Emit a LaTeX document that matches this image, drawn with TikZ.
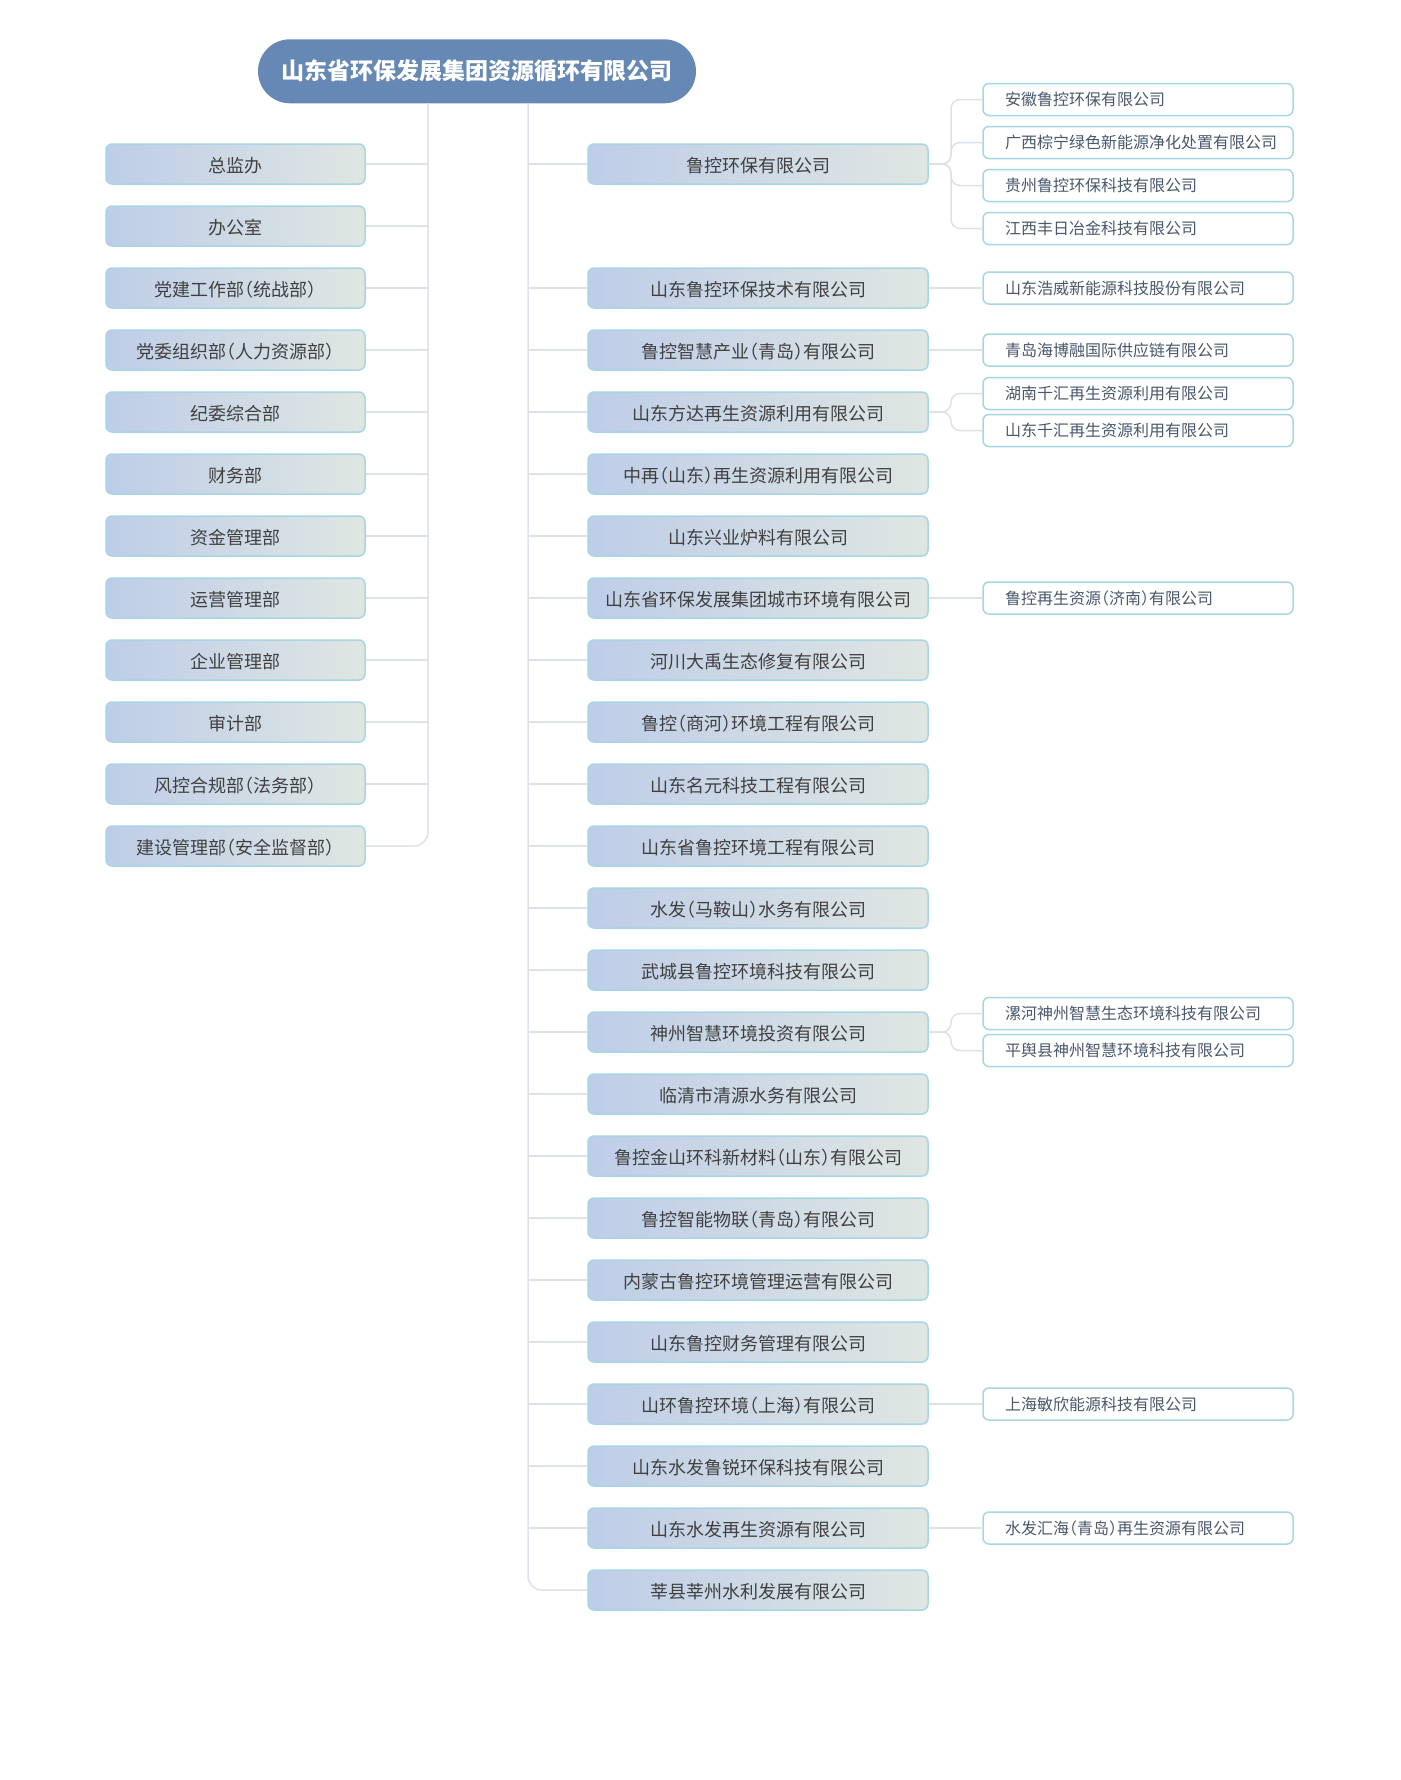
\documentclass[tikz,border=0pt]{standalone}
\usepackage{fontspec}
\setmainfont{Noto Sans CJK SC}[RawFeature=+halt]
\definecolor{racine}{RGB}{102,136,180}
\definecolor{boxg}{RGB}{190,205,232}
\definecolor{boxd}{RGB}{223,230,226}
\definecolor{bord}{RGB}{166,214,230}
\definecolor{lienc}{RGB}{221,226,234}
\definecolor{texte}{RGB}{64,64,64}
\definecolor{soustexte}{RGB}{74,88,108}
\tikzset{
	siegebox/.style={fill=racine, rounded corners=32pt, minimum width=438pt, minimum height=64pt, text=white, font=\fontsize{23}{26}\selectfont\bfseries},
	dept/.style={left color=boxg, right color=boxd, draw=bord, line width=1.5pt, rounded corners=6pt, minimum width=259pt, minimum height=40pt, inner sep=0pt, text=texte, text height=16pt, text depth=0pt, font=\fontsize{18}{20}\selectfont},
	filiale/.style={dept, minimum width=340pt},
	sousfil/.style={fill=white, draw=bord, line width=1.5pt, rounded corners=6pt, minimum height=32pt, inner xsep=22pt, inner ysep=0pt, text width=266pt, align=left, text=soustexte, font=\fontsize{16}{18}\selectfont},
	lien/.style={draw=lienc, line width=1.5pt}
}
\begin{document}
\begin{tikzpicture}[x=1pt,y=-1pt]
	% Fond
	\fill[white] (0,0) rectangle (1400,1780);
	\useasboundingbox (0,0) rectangle (1400,1780);
	
	% Siège
	\node[siegebox] (siege) at (477,71.3) {山东省环保发展集团资源循环有限公司};
	\coordinate (tg) at (428,103);
	\coordinate (td) at (528,103);
	\coordinate (xb) at (951,0);
	
	% Départements (à gauche)
	\foreach \t [count=\i from 0] in {总监办,办公室,党建工作部（统战部）,党委组织部（人力资源部）,纪委综合部,财务部,资金管理部,运营管理部,企业管理部,审计部,风控合规部（法务部）,建设管理部（安全监督部）}
		\node[dept] (d\i) at (235.5,{164+62*\i}) {\t};
	
	% Filiales (à droite)
	\foreach \r/\t in {0/鲁控环保有限公司,2/山东鲁控环保技术有限公司,3/鲁控智慧产业（青岛）有限公司,4/山东方达再生资源利用有限公司,5/中再（山东）再生资源利用有限公司,6/山东兴业炉料有限公司,7/山东省环保发展集团城市环境有限公司,8/河川大禹生态修复有限公司,9/鲁控（商河）环境工程有限公司,10/山东名元科技工程有限公司,11/山东省鲁控环境工程有限公司,12/水发（马鞍山）水务有限公司,13/武城县鲁控环境科技有限公司,14/神州智慧环境投资有限公司,15/临清市清源水务有限公司,16/鲁控金山环科新材料（山东）有限公司,17/鲁控智能物联（青岛）有限公司,18/内蒙古鲁控环境管理运营有限公司,19/山东鲁控财务管理有限公司,20/山环鲁控环境（上海）有限公司,21/山东水发鲁锐环保科技有限公司,22/山东水发再生资源有限公司,23/莘县莘州水利发展有限公司}
		\node[filiale] (f\r) at (758,{164+62*\r}) {\t};
	
	% Sous-filiales
	\node[sousfil] (s0a) at (1138,99.5) {安徽鲁控环保有限公司};
	\node[sousfil] (s0b) at (1138,142.5) {广西棕宁绿色新能源净化处置有限公司};
	\node[sousfil] (s0c) at (1138,185.5) {贵州鲁控环保科技有限公司};
	\node[sousfil] (s0d) at (1138,228.5) {江西丰日冶金科技有限公司};
	\node[sousfil] (s2) at (1138,288) {山东浩威新能源科技股份有限公司};
	\node[sousfil] (s3) at (1138,350) {青岛海博融国际供应链有限公司};
	\node[sousfil] (s4a) at (1138,393.5) {湖南千汇再生资源利用有限公司};
	\node[sousfil] (s4b) at (1138,430.5) {山东千汇再生资源利用有限公司};
	\node[sousfil] (s7) at (1138,598) {鲁控再生资源（济南）有限公司};
	\node[sousfil] (s14a) at (1138,1013.5) {漯河神州智慧生态环境科技有限公司};
	\node[sousfil] (s14b) at (1138,1050.5) {平舆县神州智慧环境科技有限公司};
	\node[sousfil] (s20) at (1138,1404) {上海敏欣能源科技有限公司};
	\node[sousfil] (s22) at (1138,1528) {水发汇海（青岛）再生资源有限公司};
	
	% Liaisons gauche
	\foreach \i in {0,...,10}
		\draw[lien] (d\i.east) -- (d\i.east -| tg);
	\draw[lien, rounded corners=14pt] (tg) |- (d11.east);
	
	% Liaisons droite
	\foreach \r in {0,2,3,...,22}
		\draw[lien] (f\r.west) -- (f\r.west -| td);
	\draw[lien, rounded corners=14pt] (td) |- (f23.west);
	
	% Accolades vers les sous-filiales
	\foreach \f/\s in {0/s0a,0/s0b,0/s0c,0/s0d,4/s4a,4/s4b,14/s14a,14/s14b}
		\draw[lien, rounded corners=9pt] (f\f.east) -- (f\f.east -| xb) |- (\s.west);
	\foreach \f/\s in {2/s2,3/s3,7/s7,20/s20,22/s22}
		\draw[lien] (f\f.east) -- (\s.west);
\end{tikzpicture}
\end{document}
